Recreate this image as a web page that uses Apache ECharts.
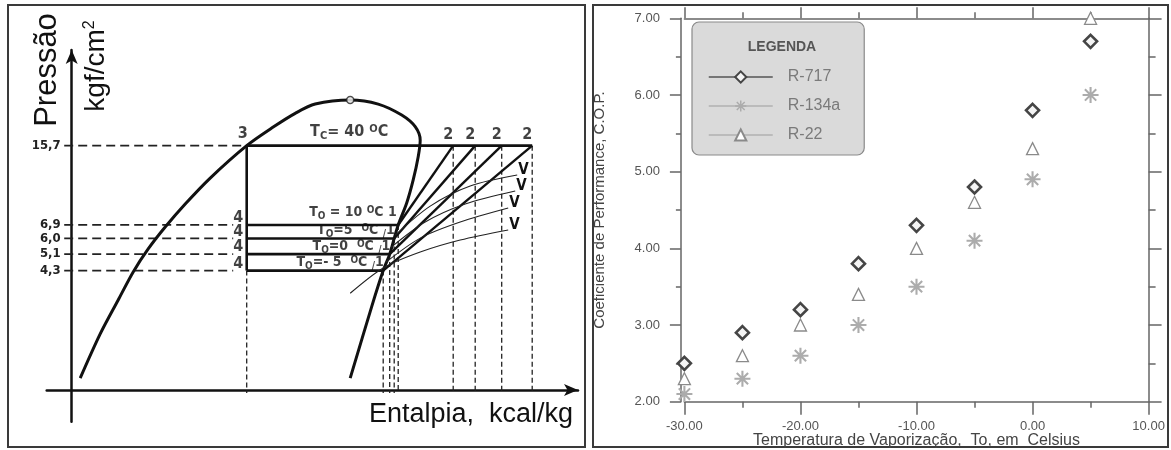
<!DOCTYPE html>
<html><head><meta charset="utf-8">
<script src="https://cdn.jsdelivr.net/npm/echarts@6/dist/echarts.min.js"></script>
<style>html,body{margin:0;padding:0;background:#fff}#c{width:1171px;height:450px}</style>
</head><body><div id="c"></div>
<script>
// ===== Right panel: COP vs evaporating temperature =====
const temps    = [-30, -25, -20, -15, -10, -5, 0, 5];
const copR717  = [2.5, 2.9, 3.2, 3.8, 4.3, 4.8, 5.8, 6.7];
const copR134a = [2.1, 2.3, 2.6, 3.0, 3.5, 4.1, 4.9, 6.0];
const copR22   = [2.3, 2.6, 3.0, 3.4, 4.0, 4.6, 5.3, 7.0];
const seriesNames = ['R-717', 'R-134a', 'R-22'];

// ===== Left panel: schematic pressure (log) – enthalpy diagram =====
const pressureLevels = [4.3, 5.1, 6.0, 6.9, 15.7];
const condPressure = 15.7;
const condTemp = 40;
const evapTemps = [10, 5, 0, -5];
const evapPressures = [6.9, 6.0, 5.1, 4.3];
const hPoint3 = 35;
const hPoint1 = [65.3, 64.5, 63.6, 62.3];
const hPoint2 = [76.3, 80.7, 86.0, 92.1];
const satLiquid = [[1.7,1.41],[5.7,2.23],[9.3,3.17],[12.3,4.24],[15.3,5.38],[18.7,6.75],[22.7,8.57],[27.7,11.22],[35,15.7],[40.3,19.03],[44.7,21.94],[48.7,24.15],[55.7,25.2]];
const satVapor  = [[55.7,25.2],[61.3,24.15],[66.0,21.55],[68.7,19.1],[69.7,16.6],[69.3,14.0],[68.3,11.0],[67.0,8.66],[65.3,6.9],[64.5,6.0],[63.6,5.1],[62.3,4.3],[60.0,2.96],[55.7,1.41]];
const criticalPoint = [55.7, 25.2];
const volumeLines = [
  [[64.7,6.21],[71.7,8.39],[79.7,10.33],[89.1,11.57]],
  [[63.7,5.43],[70.7,7.11],[78.7,8.57],[88.7,9.81]],
  [[62.9,4.70],[69.7,6.02],[77.7,7.11],[87.3,8.22]],
  [[55.7,3.40],[62.3,4.42],[69.7,5.21],[77.7,5.90],[87.3,6.55]]
];
const hAxisStart = -1.5;     // dashed pressure lines start (enthalpy units)
const hLabelGap = 32.3;      // dashed lines stop before the "4" labels
const pBase = 1.21;          // projection lines end just below the enthalpy axis
const hTcLabel = 55.5;       // anchor of the T_C label on the condensing line

const NARROW = "'Liberation Sans Narrow','Arial Narrow','DejaVu Sans Condensed','Liberation Sans',Arial,sans-serif";
const SANS = "'Liberation Sans',Arial,Helvetica,sans-serif";

const chart = echarts.init(document.getElementById('c'));

function seg(data, lineStyle, extra) {
  return Object.assign({type:'line', xAxisIndex:0, yAxisIndex:0, data:data, symbol:'none', silent:true,
    animation:false, lineStyle:lineStyle, z:3}, extra || {});
}
const thick = {color:'#111', width:2.6};
const series = [];

// dashed horizontal pressure lines
pressureLevels.forEach(p => {
  const end = p === condPressure ? hPoint3 : hLabelGap;
  series.push(seg([[hAxisStart, p],[end, p]], {color:'#222', width:1.7, type:[9,5]}, {z:1}));
});
// dashed vertical projection lines
series.push(seg([[hPoint3, Math.min(...evapPressures)],[hPoint3, pBase]], {color:'#222', width:1.3, type:[5,3]}, {z:1}));
hPoint1.forEach((h,i) => series.push(seg([[h, evapPressures[i]],[h, pBase]], {color:'#222', width:1.3, type:[5,3]}, {z:1})));
hPoint2.forEach(h => series.push(seg([[h, condPressure],[h, pBase]], {color:'#222', width:1.3, type:[5,3]}, {z:1})));
// saturation dome
series.push(seg(satLiquid.concat(satVapor.slice(1)), {color:'#111', width:3}, {smooth:0.3}));
// condensing line & liquid line 3 -> 4
series.push(seg([[hPoint3, condPressure],[Math.max(...hPoint2), condPressure]], thick));
series.push(seg([[hPoint3, condPressure],[hPoint3, Math.min(...evapPressures)]], thick));
// evaporating lines 4 -> 1 and compression 1 -> 2
evapPressures.forEach((p,i) => {
  series.push(seg([[hPoint3, p],[hPoint1[i], p]], thick));
  series.push(seg([[hPoint1[i], p],[hPoint2[i], condPressure]], {color:'#111', width:2.4}));
});
// specific volume lines
volumeLines.forEach(l => series.push(seg(l, {color:'#222', width:1.1}, {smooth:0.3,
  endLabel:{show:true, formatter:'V', fontSize:15, fontWeight:'bold', fontFamily:NARROW, color:'#111', distance:1, offset:[0,-5]}})));
// critical point
series.push({type:'scatter', xAxisIndex:0, yAxisIndex:0, data:[criticalPoint], symbol:'circle', symbolSize:7,
  itemStyle:{color:'#fff', borderColor:'#222', borderWidth:1.5}, silent:true, animation:false, z:6});

// annotations
function richSet(size) {
  const sm = Math.round(size * 0.7);
  return {
    t:{fontSize:size, fontWeight:'bold', fontFamily:NARROW, color:'#111', lineHeight:size+2, padding:[0,0,4,0], verticalAlign:'top'},
    s:{fontSize:sm, fontWeight:'bold', fontFamily:NARROW, color:'#111', lineHeight:sm, verticalAlign:'bottom'},
    u:{fontSize:sm, fontWeight:'bold', fontFamily:NARROW, color:'#111', lineHeight:sm, verticalAlign:'top'},
    k:{fontSize:sm, fontWeight:'bold', fontFamily:NARROW, color:'#111', lineHeight:sm, verticalAlign:'bottom'}
  };
}
const numStyle = {fontSize:16, fontWeight:'bold', fontFamily:NARROW, color:'#111'};
const annot = [];
annot.push({value:[hPoint3, condPressure], label:Object.assign({formatter:'3', position:'top', distance:3, offset:[-4,0]}, numStyle)});
evapPressures.forEach(p => annot.push({value:[hPoint3, p], label:Object.assign({formatter:'4', position:'left', distance:3, offset:[0,-7]}, numStyle)}));
hPoint2.forEach(h => annot.push({value:[h, condPressure], label:Object.assign({formatter:'2', position:'top', distance:2, offset:[-5,0]}, numStyle)}));
annot.push({value:[hTcLabel, condPressure], label:{formatter:'{t|T}{s|C}{t|= ' + condTemp + ' }{u|O}{t|C}', rich:richSet(16), position:'top', distance:3}});
evapTemps.forEach((t,i) => {
  const tt = t < 0 ? '- ' + (-t) : String(t);
  const txt = i === 0 ? '{t|T}{s|O}{t| = ' + tt + ' }{u|O}{t|C 1}'
                      : '{t|T}{s|O}{t|=' + tt + '  }{u|O}{t|C }{k|/}{t|1}';
  annot.push({value:[hPoint1[i], evapPressures[i]], label:{formatter:txt, rich:richSet(14), position:'left', distance:1, offset:[i===0?0:2, i===0?-12:-7]}});
});
series.push({type:'scatter', xAxisIndex:0, yAxisIndex:0, data:annot, symbol:'circle', symbolSize:1,
  itemStyle:{color:'transparent'}, label:{show:true}, silent:true, animation:false, z:7});

// ===== right panel series =====
const asterisk = 'path://M-1.3,-10L1.3,-10L1.3,10L-1.3,10Z M-10,-1.3L10,-1.3L10,1.3L-10,1.3Z M-6.15,-7.99L7.99,6.15L6.15,7.99L-7.99,-6.15Z M-7.99,6.15L6.15,-7.99L7.99,-6.15L-6.15,7.99Z';
const pair = arr => temps.map((t,i) => [t, arr[i]]);
series.push({name:seriesNames[0], type:'line', xAxisIndex:1, yAxisIndex:1, data:pair(copR717), symbol:'diamond', symbolSize:13,
  lineStyle:{opacity:0}, itemStyle:{color:'#f4f4f4', borderColor:'#454545', borderWidth:2.6}, z:6, animation:false, emphasis:{disabled:true}});
series.push({name:seriesNames[1], type:'line', xAxisIndex:1, yAxisIndex:1, data:pair(copR134a), symbol:asterisk, symbolSize:16,
  lineStyle:{opacity:0}, itemStyle:{color:'#acacac'}, z:5, animation:false, emphasis:{disabled:true}});
series.push({name:seriesNames[2], type:'line', xAxisIndex:1, yAxisIndex:1, data:pair(copR22), symbol:'triangle', symbolSize:12,
  lineStyle:{opacity:0}, itemStyle:{color:'#ffffff', borderColor:'#8a8a8a', borderWidth:1.3}, z:5, animation:false, emphasis:{disabled:true}});

const axC = '#666';
const boxLine = {show:true, onZero:false, lineStyle:{color:axC, width:1.5}};
const fmt2 = v => v.toFixed(2);

chart.setOption({
  animation:false,
  grid:[
    {left:46.7, right:593, top:50, bottom:28.3, outerBoundsMode:'none', containLabel:false},
    {left:684.4, right:22.4, top:18.3, bottom:48.3, outerBoundsMode:'none', containLabel:false}
  ],
  xAxis:[
    {gridIndex:0, type:'value', min:-5, max:101.26, offset:-31.7,
     axisLine:{show:true, onZero:false, symbol:['none','arrow'], symbolSize:[9,14], lineStyle:{color:'#111', width:2.5}},
     axisTick:{show:false}, axisLabel:{show:false}, splitLine:{show:false}},
    {gridIndex:1, type:'value', min:-30, max:10, interval:10, position:'bottom',
     axisLine:boxLine, axisTick:{length:13, lineStyle:{color:axC, width:1.5}},
     minorTick:{show:true, splitNumber:2, length:6, lineStyle:{color:axC, width:1.5}},
     axisLabel:{formatter:fmt2, color:'#555', fontSize:13, fontFamily:SANS, margin:18},
     splitLine:{show:false}, minorSplitLine:{show:false},
     name:'Temperatura de Vaporização,  To, em  Celsius', nameLocation:'middle', nameGap:31, nameMoveOverlap:false,
     nameTextStyle:{fontSize:16, color:'#444', fontFamily:SANS}},
    {gridIndex:1, type:'value', min:-30, max:10, interval:10, position:'top',
     axisLine:boxLine, axisTick:{length:11, lineStyle:{color:axC, width:1.5}},
     minorTick:{show:true, splitNumber:2, length:6, lineStyle:{color:axC, width:1.5}},
     axisLabel:{show:false}, splitLine:{show:false}, minorSplitLine:{show:false}}
  ],
  yAxis:[
    {gridIndex:0, type:'log', logBase:10, min:0.898, max:42.3, offset:-25,
     axisLine:{show:true, onZero:false, symbol:['none','arrow'], symbolSize:[9,14], lineStyle:{color:'#111', width:2.5}},
     axisTick:{show:false},
     axisLabel:{customValues:pressureLevels, formatter:v => Number(v).toFixed(1).replace('.', ','),
       fontSize:13, fontWeight:'bold', fontFamily:NARROW, color:'#222', margin:11},
     splitLine:{show:false}, minorSplitLine:{show:false}},
    {gridIndex:1, type:'value', min:2, max:7, interval:1, offset:3.5,
     axisLine:boxLine, axisTick:{length:11, lineStyle:{color:axC, width:1.5}},
     minorTick:{show:true, splitNumber:2, length:5, lineStyle:{color:axC, width:1.5}},
     axisLabel:{formatter:fmt2, color:'#555', fontSize:13, fontFamily:SANS, margin:21},
     splitLine:{show:false}, minorSplitLine:{show:false},
     name:'Coeficiente de Performance, C.O.P.', nameLocation:'middle', nameRotate:90, nameGap:74, nameMoveOverlap:false,
     nameTextStyle:{fontSize:15, color:'#444', fontFamily:SANS}},
    {gridIndex:1, type:'value', min:2, max:7, interval:1, position:'right',
     axisLine:boxLine, axisTick:{length:13, lineStyle:{color:axC, width:1.5}},
     minorTick:{show:true, splitNumber:2, length:7, lineStyle:{color:axC, width:1.5}},
     axisLabel:{show:false}, splitLine:{show:false}, minorSplitLine:{show:false}}
  ],
  title:{text:'LEGENDA', left:777, top:35, textAlign:'center',
    textStyle:{fontSize:14, fontWeight:'bold', color:'#555', fontFamily:SANS}},
  legend:{
    orient:'vertical', left:692, top:22, padding:[47,24,12,16],
    itemWidth:64, itemHeight:14, itemGap:13, selectedMode:false,
    backgroundColor:'#dadada', borderColor:'#8a8a8a', borderWidth:1.2, borderRadius:7,
    textStyle:{fontSize:16, color:'#7a7a7a', fontFamily:SANS, padding:[0,0,0,10]},
    data:[
      {name:seriesNames[0], lineStyle:{color:'#555', width:1.5, opacity:1}},
      {name:seriesNames[1], lineStyle:{color:'#b0b0b0', width:1.5, opacity:1}},
      {name:seriesNames[2], lineStyle:{color:'#b0b0b0', width:1.5, opacity:1}}
    ]
  },
  graphic:[
    {type:'rect', shape:{x:8, y:5, width:577, height:442}, style:{fill:'none', stroke:'#3a3a3a', lineWidth:2}, silent:true},
    {type:'rect', shape:{x:593, y:5, width:575, height:442}, style:{fill:'none', stroke:'#3a3a3a', lineWidth:2}, silent:true},
    {type:'text', x:47, y:70, rotation:Math.PI/2, silent:true,
     style:{text:'Pressão', fontSize:31, fontFamily:SANS, fill:'#111', align:'center', verticalAlign:'middle'}},
    {type:'text', x:96, y:66, rotation:Math.PI/2, silent:true,
     style:{text:'kgf/cm{s|2}', fontSize:28, fontFamily:SANS, fill:'#111', align:'center', verticalAlign:'middle',
       rich:{s:{fontSize:16, fontFamily:SANS, fill:'#111', verticalAlign:'top', lineHeight:15}}}},
    {type:'text', x:573, y:415, silent:true,
     style:{text:'Entalpia,  kcal/kg', fontSize:27, fontFamily:SANS, fill:'#111', align:'right', verticalAlign:'middle'}}
  ],
  series:series
});
</script>
</body></html>
